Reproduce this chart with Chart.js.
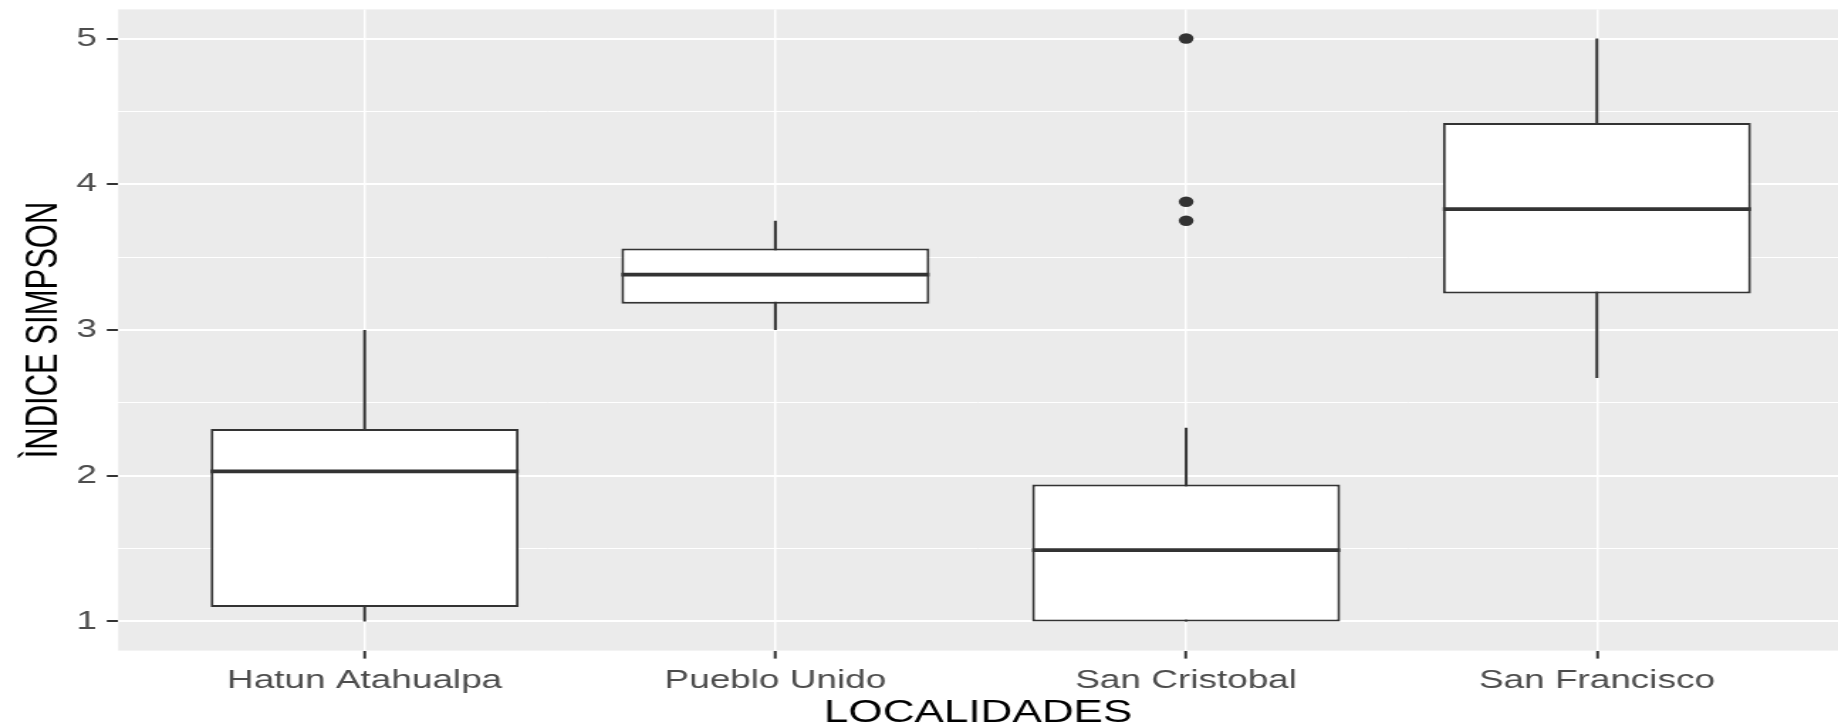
<!DOCTYPE html>
<html>
<head>
<meta charset="utf-8">
<script src="https://cdn.jsdelivr.net/npm/chart.js@4.4.1/dist/chart.umd.min.js"></script>
<style>
  html, body { margin: 0; padding: 0; background: #fff; }
  canvas { display: block; }
</style>
</head>
<body>
<!-- el original esta estirado en horizontal, así que estiramos el canvas igual -->
<canvas id="boxChart" width="1294" height="728" style="width:1838px;height:728px"></canvas>
<script>
// --- Datos ---
const categories = ['Hatun Atahualpa', 'Pueblo Unido', 'San Cristobal', 'San Francisco'];
const whiskerLow = [1.00, 3.00, 1.00, 2.67];
const quartile1 = [1.10, 3.18, 1.00, 3.25];
const medians = [2.03, 3.38, 1.49, 3.83];
const quartile3 = [2.32, 3.56, 1.94, 4.42];
const whiskerHigh = [3.00, 3.75, 2.33, 5.00];
const outlierCategory = ['San Cristobal', 'San Cristobal', 'San Cristobal'];
const outlierValues = [5.00, 3.88, 3.75];
const yTicks = [1, 2, 3, 4, 5];

const FONT = '"Liberation Sans", Arial, sans-serif';
const INK = '#333333';
const BOX_WIDTH = 0.75; // en unidades de categoría, igual que ggplot

// Fondo gris del panel
const panelBackground = {
    id: 'panelBackground',
    beforeDraw(chart) {
        const { ctx, chartArea: a } = chart;
        ctx.save();
        ctx.fillStyle = '#EBEBEB';
        ctx.fillRect(a.left, a.top, a.right - a.left, a.bottom - a.top);
        ctx.restore();
    }
};

const isMajor = v => yTicks.some(t => Math.abs(t - v) < 1e-9);

// sin relleno automático por las etiquetas de los extremos
function noPadding(s) {
    s.paddingTop = 0;
    s.paddingBottom = 0;
    s.paddingLeft = 0;
    s.paddingRight = 0;
}

// Bigotes: un segmento por categoría, separados por null
const whiskerData = categories.flatMap((c, i) => [
    { x: i + 1, y: whiskerLow[i] },
    { x: i + 1, y: whiskerHigh[i] },
    { x: i + 1, y: null }
]);

// Cajas flotantes Q1..Q3
const boxData = categories.map((c, i) => ({ x: i + 1, y: [quartile1[i], quartile3[i]] }));

// Mediana: de borde a borde de la caja
const medianData = categories.flatMap((c, i) => [
    { x: i + 1 - BOX_WIDTH / 2, y: medians[i] },
    { x: i + 1 + BOX_WIDTH / 2, y: medians[i] },
    { x: i + 1, y: null }
]);

const outlierData = outlierValues.map((v, k) => ({
    x: categories.indexOf(outlierCategory[k]) + 1,
    y: v
}));

new Chart(document.getElementById('boxChart'), {
    type: 'scatter',
    data: {
        datasets: [
            {
                type: 'line',
                data: whiskerData,
                borderColor: INK,
                borderWidth: 2,
                pointRadius: 0,
                spanGaps: false,
                order: 3
            },
            {
                type: 'bar',
                data: boxData,
                backgroundColor: '#FFFFFF',
                borderColor: INK,
                borderWidth: 2,
                borderSkipped: false,
                barPercentage: BOX_WIDTH,
                categoryPercentage: 1,
                grouped: false,
                order: 2
            },
            {
                type: 'line',
                data: medianData,
                borderColor: INK,
                borderWidth: 3.8,
                borderCapStyle: 'butt',
                pointRadius: 0,
                spanGaps: false,
                order: 1
            },
            {
                type: 'scatter',
                data: outlierData,
                backgroundColor: INK,
                borderWidth: 0,
                pointRadius: 5.2,
                order: 0
            }
        ]
    },
    options: {
        responsive: false,
        maintainAspectRatio: false,
        animation: false,
        events: [],
        layout: { autoPadding: false, padding: { top: 9.4, right: 0, bottom: 0, left: 0 } },
        plugins: {
            legend: { display: false },
            tooltip: { enabled: false }
        },
        scales: {
            x: {
                type: 'linear',
                min: 0.4,
                max: 4.587,
                offset: false,
                border: { display: false },
                grid: { offset: false, color: '#FFFFFF', lineWidth: 1.5, tickColor: INK, tickLength: 8, tickWidth: 2 },
                ticks: {
                    stepSize: 1,
                    includeBounds: false,
                    autoSkip: false,
                    maxRotation: 0,
                    padding: 7,
                    color: '#4D4D4D',
                    font: { family: FONT, size: 26 },
                    callback: v => categories[v - 1] ?? ''
                },
                title: {
                    display: true,
                    text: 'LOCALIDADES',
                    color: '#000000',
                    font: { family: FONT, size: 31, lineHeight: 0.85 },
                    padding: { top: 0, bottom: 1 }
                },
                afterFit: s => { s.height = 77.4; noPadding(s); }
            },
            y: {
                type: 'linear',
                min: 0.8,
                max: 5.2,
                border: { display: false },
                grid: {
                    color: '#FFFFFF',
                    lineWidth: c => isMajor(c.tick.value) ? 2 : 1,
                    tickColor: c => isMajor(c.tick.value) ? INK : 'rgba(0,0,0,0)',
                    tickLength: 8,
                    tickWidth: 2
                },
                ticks: {
                    stepSize: 0.5,
                    includeBounds: false,
                    autoSkip: false,
                    padding: 7,
                    color: '#4D4D4D',
                    font: { family: FONT, size: 26 },
                    callback: v => isMajor(v) ? String(Math.round(v)) : ''
                },
                title: {
                    display: true,
                    text: 'ÌNDICE SIMPSON',
                    color: '#000000',
                    font: { family: FONT, size: 31, lineHeight: 1 },
                    padding: { top: 16, bottom: 0 }
                },
                afterFit: s => { s.width = 83.2; noPadding(s); }
            }
        }
    },
    plugins: [panelBackground]
});
</script>
</body>
</html>
